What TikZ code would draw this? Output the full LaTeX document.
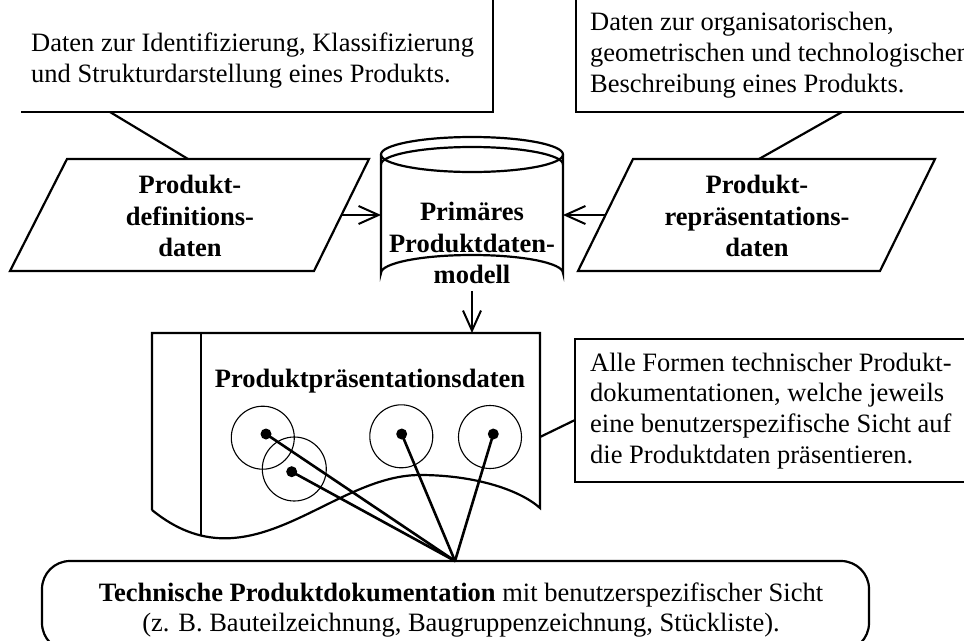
\documentclass[tikz,border=0pt]{standalone}
\usepackage{fontspec}
\setmainfont{Liberation Serif}
\usetikzlibrary{arrows.meta}
\tikzset{
  txt/.style={font=\fontsize{26.5}{30.8}\selectfont, inner sep=0pt},
  boldtxt/.style={font=\fontsize{26.5}{31.5}\selectfont\bfseries, inner sep=0pt, align=center},
  frame/.style={line width=2.2pt, line join=miter},
  ring/.style={line width=1.1pt},
  ray/.style={line width=2.6pt, line cap=round},
  flow/.style={line width=2pt, -{Straight Barb[length=20pt, width=18pt]}},
  dot/.style={circle, fill=black, inner sep=0pt, minimum size=11pt},
}
\begin{document}
\begin{tikzpicture}[x=1pt, y=-1pt]
\useasboundingbox (0,0) rectangle (964,640);
\clip (0,0) rectangle (964,640);

% ---- annotation boxes at the top
\draw[frame] (21,112) -- (493,112) -- (493,-5);
\node[txt, anchor=west, align=left] (defnote) at (31,60.5)
  {Daten zur Identifizierung, Klassifizierung\\und Strukturdarstellung eines Produkts.};
\draw[frame] (576,-5) -- (576,112) -- (975,112);
\node[txt, anchor=west, align=left] (repnote) at (590,55)
  {Daten zur organisatorischen,\\geometrischen und technologischen\\Beschreibung eines Produkts.};

% ---- product definition data (parallelogram)
\coordinate (defA) at (67,159);
\coordinate (defB) at (369,159);
\coordinate (defC) at (314,271);
\coordinate (defD) at (10,271);
\draw[frame] (defA) -- (defB) -- (defC) -- (defD) -- cycle;
\node[boldtxt] (defdata) at (190,216) {Produkt-\\definitions-\\daten};
\coordinate (defnoteTip) at (110,112);
\coordinate (defTop) at (188,159);
\draw[frame] (defnoteTip) -- (defTop);

% ---- product representation data (parallelogram)
\coordinate (repA) at (633,159);
\coordinate (repB) at (935,159);
\coordinate (repC) at (880,271);
\coordinate (repD) at (578,271);
\draw[frame] (repA) -- (repB) -- (repC) -- (repD) -- cycle;
\node[boldtxt] (repdata) at (757,216) {Produkt-\\repräsentations-\\daten};
\coordinate (repnoteTip) at (842,112);
\coordinate (repTop) at (759,159);
\draw[frame] (repnoteTip) -- (repTop);

% ---- primary product data model (cylinder)
\draw[frame] (381,154.5) -- (381,273)
  arc[start angle=180, end angle=360, x radius=91, y radius=18] -- (563,154.5);
\draw[frame] (472,154.5) ellipse[x radius=91, y radius=17.5];
\draw[frame] (381,164.5) arc[start angle=180, end angle=360, x radius=91, y radius=17.5];
\node[boldtxt] (pdm) at (472,243) {Primäres\\Produktdaten-\\modell};
\coordinate (cylW) at (381,215);
\coordinate (cylE) at (563,215);
\coordinate (cylS) at (472,291);
\coordinate (defOut) at (341.5,215);
\coordinate (repOut) at (605.5,215);
\draw[flow] (defOut) -- (cylW);
\draw[flow] (repOut) -- (cylE);

% ---- product presentation data (document)
\draw[frame] (152,510) -- (152,333) -- (540,333) -- (540,508)
  .. controls (520,490) and (475,475) .. (420,475)
  .. controls (330,475) and (250,590) .. (152,510);
\draw[frame] (201,333) -- (201,536);
\coordinate (docN) at (472,333);
\coordinate (docE) at (540,437);
\draw[flow] (cylS) -- (docN);
\node[txt, font=\fontsize{26.5}{30.5}\selectfont\bfseries, anchor=base] (ppd) at (370,387)
  {Produktpräsentationsdaten};

\draw[ring] (262.8,437.7) circle[radius=31.5];
\draw[ring] (294.3,469) circle[radius=32];
\draw[ring] (401.3,436.3) circle[radius=31.5];
\draw[ring] (490,437) circle[radius=31.5];
\node[dot] (d1) at (266,434) {};
\node[dot] (d2) at (291.7,471.7) {};
\node[dot] (d3) at (401.7,434) {};
\node[dot] (d4) at (493.3,434) {};

% ---- explanation box on the right
\draw[frame] (575,339) rectangle (990,482);
\node[txt, anchor=west, align=left] (pnote) at (590,411)
  {Alle Formen technischer Produkt-\\dokumentationen, welche jeweils\\eine benutzerspezifische Sicht auf\\die Produktdaten präsentieren.};
\coordinate (pnoteW) at (575,420);
\draw[frame] (docE) -- (pnoteW);

% ---- technical product documentation
\node[draw, frame, rounded corners=28pt, minimum width=827pt, minimum height=90pt,
  inner sep=0pt] (tpd) at (455.5,606) {};
\node[txt, align=center] (tpdtext) at (461,610)
  {\textbf{Technische Produktdokumentation} mit benutzerspezifischer Sicht\\(z. B. Bauteilzeichnung, Baugruppenzeichnung, Stückliste).};
\coordinate (hub) at (455,561);
\foreach \d in {d1,d2,d3,d4} \draw[ray] (\d.center) -- (hub);
\end{tikzpicture}
\end{document}
